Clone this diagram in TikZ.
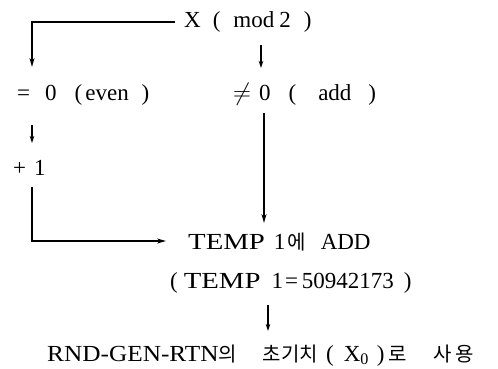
\documentclass[tikz,border=0pt]{standalone}
\usepackage{fontspec}
\setmainfont{Liberation Serif}
\newfontfamily\widea{Liberation Serif}[FakeStretch=1.25]
\newfontfamily\wideb{Liberation Serif}[FakeStretch=1.1]
\newfontfamily\kr{Noto Sans CJK KR}
\usetikzlibrary{arrows.meta}
\newcommand{\hs}[1]{\hspace{#1pt}}
\newcommand{\kor}[1]{{\kr\fontsize{20}{24}\selectfont #1}}
\newcommand{\wa}[1]{{\widea #1}}
\newcommand{\wb}[1]{{\wideb #1}}
\begin{document}
\begin{tikzpicture}[x=1pt,y=-1pt,
  lbl/.style={anchor=base west,inner sep=0pt,font=\fontsize{23}{27}\selectfont},
  conn/.style={line width=1.6pt,-{Stealth[length=9pt,width=5pt]}},
  darr/.style={line width=1.2pt,-{Stealth[length=7pt,width=4.5pt]}}]
\useasboundingbox (0,0) rectangle (498,369);
\node[lbl] (xmod) at (184,28) {X\hs{12}(\hs{13}mod\hs{5}2\hs{13})};
\node[lbl] (even) at (17,100) {=\hs{15}0\hs{18}(\hs{3}even\hs{13})};
\node[lbl] (neq) at (233,100) {$\neq$\hs{8}0\hs{18}(\hs{22}add\hs{17})};
\node[lbl] (plus) at (13,175) {+\hs{8}1};
\node[lbl] (temp) at (188,249) {\wa{TEMP}\hs{9}1\hs{2}\kor{에}\hs{15}ADD};
\node[lbl] (tval) at (170,288) {(\hs{6}\wa{TEMP}\hs{11}1\hs{2}=\hs{4}50942173\hs{10})};
\node[lbl] (final) at (47,361) {\wb{RND-GEN-RTN}\kor{의}\hs{26}\kor{초기치}\hs{8}(\hs{10}X\textsubscript{0}\hs{8})\hs{4}\kor{로}\hs{26}\kor{사\hs{4}용}};
% connector coordinates
\coordinate (c1) at (32,22);
\coordinate (c2) at (32,241);
\coordinate (a1s) at (261,45);
\coordinate (a1e) at (261,68);
\coordinate (a2s) at (32,125);
\coordinate (a2e) at (32,143);
\coordinate (a3s) at (268,305);
\coordinate (a3e) at (268,331);
\coordinate (m1) at (264,113);
\coordinate (m2) at (264,223);
\coordinate (l1) at (32,187);
\coordinate (l3) at (166,241);
\coordinate (t0) at (175,22);
\coordinate (e0) at (32,67);
\draw[conn] (t0) -- (c1) -- (e0);
\draw[conn] (m1) -- (m2);
\draw[conn] (l1) -- (c2) -- (l3);
\draw[darr] (a1s) -- (a1e);
\draw[darr] (a2s) -- (a2e);
\draw[darr] (a3s) -- (a3e);
\end{tikzpicture}
\end{document}
